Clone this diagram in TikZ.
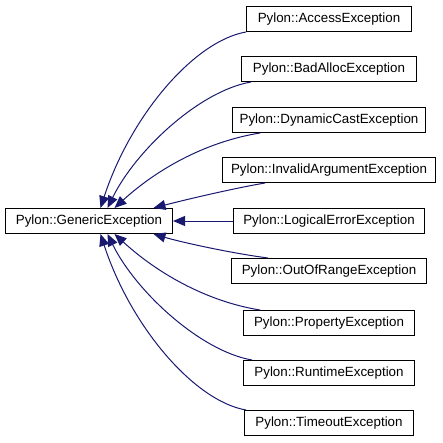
\documentclass[tikz,border=0pt]{standalone}
\usepackage{fontspec}
\setmainfont{Liberation Sans}
\usetikzlibrary{arrows.meta}
\definecolor{edgeblue}{RGB}{25,25,112}
\tikzset{
  cls/.style={draw=black, line width=1bp, fill=white, inner xsep=2bp, inner ysep=0pt,
    minimum height=25bp, font=\fontsize{13.4}{15}\selectfont},
  inh/.style={draw=edgeblue, line width=1bp, -{Triangle[length=12bp,width=10bp]}, color=edgeblue}
}
\begin{document}
\begin{tikzpicture}[x=1bp,y=-1bp]
\useasboundingbox (0,0) rectangle (443,443);
\node[cls, minimum width=167bp] (generic) at (89,221) {Pylon::GenericException};
\node[cls, minimum width=165bp] (access) at (329,19) {Pylon::AccessException};
\node[cls, minimum width=175bp] (badalloc) at (329,69) {Pylon::BadAllocException};
\node[cls, minimum width=193bp] (dynamic) at (329,120) {Pylon::DynamicCastException};
\node[cls, minimum width=213bp] (invalid) at (329,170) {Pylon::InvalidArgumentException};
\node[cls, minimum width=191bp] (logical) at (329,221) {Pylon::LogicalErrorException};
\node[cls, minimum width=195bp] (outofrange) at (329,271) {Pylon::OutOfRangeException};
\node[cls, minimum width=171bp] (property) at (329,323) {Pylon::PropertyException};
\node[cls, minimum width=171bp] (runtime) at (329,373) {Pylon::RuntimeException};
\node[cls, minimum width=169bp] (timeout) at (329,423) {Pylon::TimeoutException};

\draw[inh] (access.south west) .. controls +(-52,9) and +(30,-92) .. ([xshift=11.5bp]generic.north);
\draw[inh] ([xshift=10bp]badalloc.south west) .. controls +(-52,9) and +(28,-57) .. ([xshift=18.5bp]generic.north);
\draw[inh] ([xshift=28bp]dynamic.south west) .. controls +(-50,8) and +(46,-42) .. ([xshift=25.5bp]generic.north);
\draw[inh] ([xshift=43bp]invalid.south west) .. controls +(-35,6) and +(27,-7) .. ([xshift=64.5bp]generic.north);
\draw[inh] (logical.west) -- (generic.east);
\draw[inh] ([xshift=37bp]outofrange.north west) .. controls +(-38,-5) and +(27,8) .. ([xshift=64.5bp]generic.south);
\draw[inh] ([xshift=17bp]property.north west) .. controls +(-50,-8) and +(46,42) .. ([xshift=25.5bp]generic.south);
\draw[inh] ([xshift=9bp]runtime.north west) .. controls +(-52,-9) and +(28,57) .. ([xshift=18.5bp]generic.south);
\draw[inh] ([xshift=2bp]timeout.north west) .. controls +(-52,-9) and +(30,92) .. ([xshift=11.5bp]generic.south);
\end{tikzpicture}
\end{document}
